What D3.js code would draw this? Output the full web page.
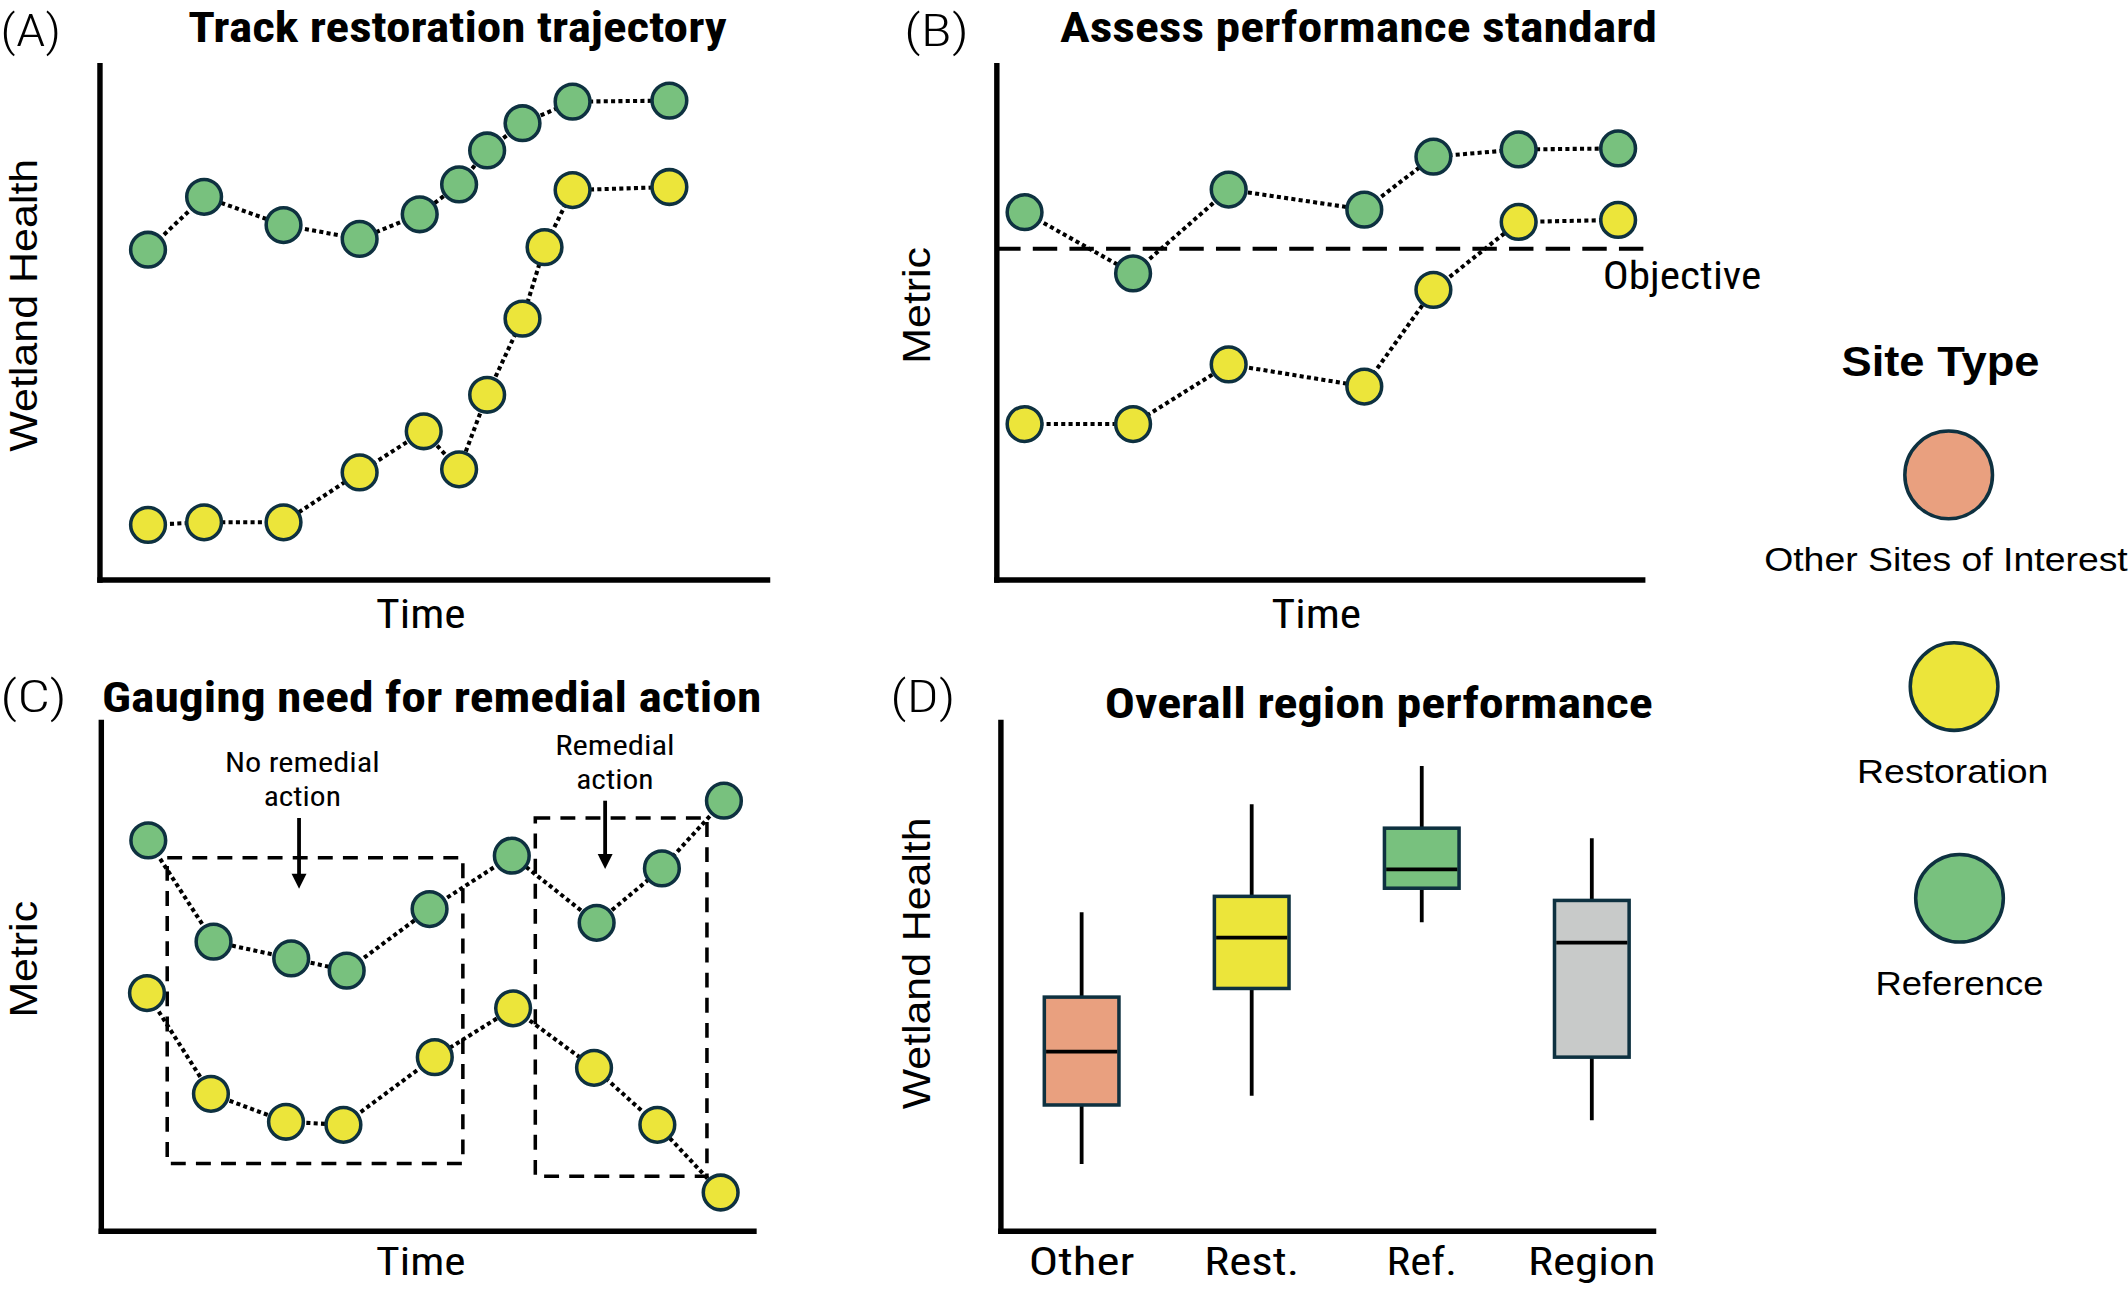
<!DOCTYPE html>
<html>
<head>
<meta charset="utf-8">
<script src="https://d3js.org/d3.v7.min.js"></script>
<style>
  body { margin: 0; background: #fff; }
  svg { display: block; }
</style>
</head>
<body>
<script>
// site types and colours
const siteTypes = ["Other Sites of Interest", "Restoration", "Reference"];
const siteColors = ["#e9a07f", "#ece53a", "#78c17e"];
const regionColor = "#c8cac9";
const edgeColor = "#0e3140";

// (A) track restoration trajectory
const timeA_ref = [7.3, 15.7, 27.6, 39.0, 48.0, 53.9, 58.1, 63.4, 70.9, 85.4];
const healthA_ref = [64.1, 74.4, 68.9, 66.2, 71.0, 76.8, 83.4, 88.7, 92.9, 93.1];
const timeA_rest = [7.3, 15.7, 27.6, 39.0, 48.6, 53.9, 58.1, 63.4, 66.7, 70.9, 85.4];
const healthA_rest = [10.6, 11.1, 11.1, 20.8, 28.8, 21.4, 35.9, 50.7, 64.6, 75.7, 76.3];

// (B) assess performance standard
const timeB = [4.4, 21.2, 36.0, 57.0, 67.7, 80.9, 96.3];
const metricB_ref = [71.4, 59.5, 75.8, 71.9, 82.2, 83.6, 83.8];
const metricB_rest = [30.2, 30.2, 41.8, 37.5, 56.3, 69.5, 69.9];
const objectiveB = 64.3;

// (C) gauging need for remedial action
const timeC_ref = [7.3, 17.3, 29.2, 37.7, 50.4, 63.0, 76.0, 86.0, 95.5];
const metricC_ref = [76.7, 56.8, 53.5, 51.1, 63.2, 73.7, 60.5, 71.2, 84.5];
const timeC_rest = [7.1, 16.9, 28.4, 37.2, 51.2, 63.2, 75.6, 85.3, 95.0];
const metricC_rest = [46.7, 26.9, 21.4, 20.8, 34.1, 43.7, 32.0, 20.8, 7.5];
// windows: [t0, t1, v0, v1]
const windowsC = [[10.2, 55.5, 13.2, 73.3], [66.6, 92.9, 10.7, 81.1]];
const windowLabels = [["No remedial", "action"], ["Remedial", "action"]];

// (D) overall region performance
const categoriesD = ["Other", "Rest.", "Ref.", "Region"];
const lowD = [13.1, 26.5, 60.6, 21.7];
const q1D = [24.7, 47.6, 67.3, 34.1];
const medianD = [35.2, 57.6, 71.0, 56.6];
const q3D = [45.9, 65.7, 79.1, 64.9];
const highD = [62.6, 83.8, 91.3, 77.1];
const fillD = [siteColors[0], siteColors[1], siteColors[2], regionColor];

const narrow = "'Liberation Sans Narrow', 'Roboto Condensed', Roboto, 'Liberation Sans', sans-serif";
const plain = "'Liberation Sans', Arial, sans-serif";

function addText(g, x, y, str, size, opts) {
  opts = opts || {};
  const t = g.append("text")
    .attr("x", x)
    .attr("y", y)
    .attr("font-family", opts.family || narrow)
    .attr("font-size", size)
    .attr("font-weight", opts.weight || "normal")
    .attr("text-anchor", opts.anchor || "middle")
    .attr("fill", "#000")
    .text(str);
  if (opts.len) t.attr("textLength", opts.len).attr("lengthAdjust", "spacingAndGlyphs");
  if (opts.rotate) t.attr("transform", "rotate(-90," + x + "," + y + ")");
  return t;
}

function drawAxes(svg, x, y) {
  const xa = svg.append("g")
    .attr("transform", "translate(0," + y.range()[0] + ")")
    .call(d3.axisBottom(x).ticks(0).tickSize(0).tickSizeOuter(0));
  const ya = svg.append("g")
    .attr("transform", "translate(" + x.range()[0] + ",0)")
    .call(d3.axisLeft(y).ticks(0).tickSize(0).tickSizeOuter(0));
  [xa, ya].forEach(function(a) {
    a.selectAll("text").remove();
    a.select(".domain").attr("stroke", "#000").attr("stroke-width", 4).attr("stroke-linecap", "square");
  });
}

function drawSeries(svg, x, y, ts, vs, color) {
  const pts = ts.map(function(t, i) { return [t, vs[i]]; });
  const line = d3.line().x(function(d) { return x(d[0]); }).y(function(d) { return y(d[1]); });
  svg.append("path")
    .attr("d", line(pts))
    .attr("fill", "none")
    .attr("stroke", "#000")
    .attr("stroke-width", 3)
    .attr("stroke-dasharray", "3 2.4");
  svg.selectAll(null)
    .data(pts)
    .enter().append("circle")
    .attr("cx", function(d) { return x(d[0]); })
    .attr("cy", function(d) { return y(d[1]); })
    .attr("r", 12.8)
    .attr("fill", color)
    .attr("stroke", edgeColor)
    .attr("stroke-width", 2.6);
}

function drawFigure() {
  const svg = d3.select("body").append("svg")
    .attr("width", 2128)
    .attr("height", 1289)
    .attr("viewBox", "0 0 1568 950");

  // ---- (A)
  const gA = svg.append("g");
  const xA = d3.scaleLinear().domain([0, 100]).range([73, 565]);
  const yA = d3.scaleLinear().domain([0, 100]).range([427, 48]);
  drawAxes(gA, xA, yA);
  drawSeries(gA, xA, yA, timeA_ref, healthA_ref, siteColors[2]);
  drawSeries(gA, xA, yA, timeA_rest, healthA_rest, siteColors[1]);
  addText(gA, 0, 34, "(A)", 33, {anchor: "start", weight: 300, len: 45});
  addText(gA, 337, 31, "Track restoration trajectory", 31, {weight: "bold", len: 397});
  addText(gA, 27, 225, "Wetland Health", 29, {family: plain, rotate: true, len: 216});
  addText(gA, 310, 463, "Time", 30, {len: 66});

  // ---- (B)
  const gB = svg.append("g");
  const xB = d3.scaleLinear().domain([0, 100]).range([734, 1210]);
  const yB = d3.scaleLinear().domain([0, 100]).range([427, 48]);
  drawAxes(gB, xB, yB);
  gB.append("line")
    .attr("x1", xB(0)).attr("x2", xB(101))
    .attr("y1", yB(objectiveB)).attr("y2", yB(objectiveB))
    .attr("stroke", "#000").attr("stroke-width", 3)
    .attr("stroke-dasharray", "18 9");
  drawSeries(gB, xB, yB, timeB, metricB_ref, siteColors[2]);
  drawSeries(gB, xB, yB, timeB, metricB_rest, siteColors[1]);
  addText(gB, 666, 34, "(B)", 33, {anchor: "start", weight: 300, len: 48});
  addText(gB, 1001, 31, "Assess performance standard", 31, {weight: "bold", len: 440});
  addText(gB, 685, 225, "Metric", 29, {family: plain, rotate: true, len: 86});
  addText(gB, 970, 463, "Time", 30, {len: 66});
  addText(gB, 1181, 213, "Objective", 28, {anchor: "start", len: 117});

  // ---- (C)
  const gC = svg.append("g");
  const xC = d3.scaleLinear().domain([0, 100]).range([74, 555]);
  const yC = d3.scaleLinear().domain([0, 100]).range([907, 532]);
  drawAxes(gC, xC, yC);
  gC.selectAll(null)
    .data(windowsC)
    .enter().append("rect")
    .attr("x", function(d) { return xC(d[0]); })
    .attr("y", function(d) { return yC(d[3]); })
    .attr("width", function(d) { return xC(d[1]) - xC(d[0]); })
    .attr("height", function(d) { return yC(d[2]) - yC(d[3]); })
    .attr("fill", "none")
    .attr("stroke", "#000")
    .attr("stroke-width", 2.6)
    .attr("stroke-dasharray", "11 7.5");
  drawSeries(gC, xC, yC, timeC_ref, metricC_ref, siteColors[2]);
  drawSeries(gC, xC, yC, timeC_rest, metricC_rest, siteColors[1]);

  // window annotations with arrows
  const arrowsC = [[30.4, 81.1, 67.2], [77.3, 84.5, 71.1]];
  const labelPosC = [[30.9, 90.2], [78.8, 93.4]];
  arrowsC.forEach(function(a, i) {
    const ax = xC(a[0]), y0 = yC(a[1]), y1 = yC(a[2]);
    gC.append("line")
      .attr("x1", ax).attr("x2", ax)
      .attr("y1", y0).attr("y2", y1 - 10)
      .attr("stroke", "#000").attr("stroke-width", 2.8);
    gC.append("path")
      .attr("d", "M" + (ax - 5.5) + "," + (y1 - 11) + "L" + (ax + 5.5) + "," + (y1 - 11) + "L" + ax + "," + y1 + "Z")
      .attr("fill", "#000");
    const lx = xC(labelPosC[i][0]), ly = yC(labelPosC[i][1]);
    addText(gC, lx, ly, windowLabels[i][0], 21, {len: i === 0 ? 114 : 88});
    addText(gC, lx, ly + 25, windowLabels[i][1], 21, {len: 57});
  });
  addText(gC, 0, 525, "(C)", 33, {anchor: "start", weight: 300, len: 49});
  addText(gC, 318, 525, "Gauging need for remedial action", 31, {weight: "bold", len: 486});
  addText(gC, 27, 707, "Metric", 29, {family: plain, rotate: true, len: 86});
  addText(gC, 310, 940, "Time", 28, {len: 66});

  // ---- (D)
  const gD = svg.append("g");
  const xD = d3.scalePoint().domain(categoriesD).range([797, 1173]);
  const xDaxis = d3.scaleLinear().domain([0, 1]).range([737, 1218]);
  const yD = d3.scaleLinear().domain([0, 100]).range([907, 532]);
  drawAxes(gD, xDaxis, yD);
  const boxW = 55;
  const boxes = gD.selectAll(".box")
    .data(categoriesD)
    .enter().append("g")
    .attr("class", "box");
  boxes.append("line")
    .attr("x1", function(d) { return xD(d); })
    .attr("x2", function(d) { return xD(d); })
    .attr("y1", function(d, i) { return yD(highD[i]); })
    .attr("y2", function(d, i) { return yD(lowD[i]); })
    .attr("stroke", "#000").attr("stroke-width", 2.8);
  boxes.append("rect")
    .attr("x", function(d) { return xD(d) - boxW / 2; })
    .attr("y", function(d, i) { return yD(q3D[i]); })
    .attr("width", boxW)
    .attr("height", function(d, i) { return yD(q1D[i]) - yD(q3D[i]); })
    .attr("fill", function(d, i) { return fillD[i]; })
    .attr("stroke", edgeColor).attr("stroke-width", 2.6);
  boxes.append("line")
    .attr("x1", function(d) { return xD(d) - boxW / 2 + 1.3; })
    .attr("x2", function(d) { return xD(d) + boxW / 2 - 1.3; })
    .attr("y1", function(d, i) { return yD(medianD[i]); })
    .attr("y2", function(d, i) { return yD(medianD[i]); })
    .attr("stroke", "#000").attr("stroke-width", 2.8);
  const catLen = [78, 70, 52, 94];
  categoriesD.forEach(function(c, i) {
    addText(gD, xD(c), 940, c, 28, {len: catLen[i]});
  });
  addText(gD, 656, 525, "(D)", 33, {anchor: "start", weight: 300, len: 48});
  addText(gD, 1016, 529, "Overall region performance", 31, {weight: "bold", len: 404});
  addText(gD, 685, 710, "Wetland Health", 29, {family: plain, rotate: true, len: 215});

  // ---- legend
  const gL = svg.append("g");
  addText(gL, 1430, 277, "Site Type", 32, {family: plain, weight: "bold", len: 146});
  const yL = d3.scalePoint().domain(siteTypes).range([350, 662]);
  const legendLen = [268, 141, 124];
  siteTypes.forEach(function(s, i) {
    gL.append("circle")
      .attr("cx", 1436 + i * 4)
      .attr("cy", yL(s))
      .attr("r", 32.3)
      .attr("fill", siteColors[i])
      .attr("stroke", edgeColor)
      .attr("stroke-width", 2.6);
    addText(gL, 1434 + i * 5, yL(s) + 71, s, 25, {family: plain, len: legendLen[i]});
  });
}

window.onload = drawFigure;
</script>
</body>
</html>
